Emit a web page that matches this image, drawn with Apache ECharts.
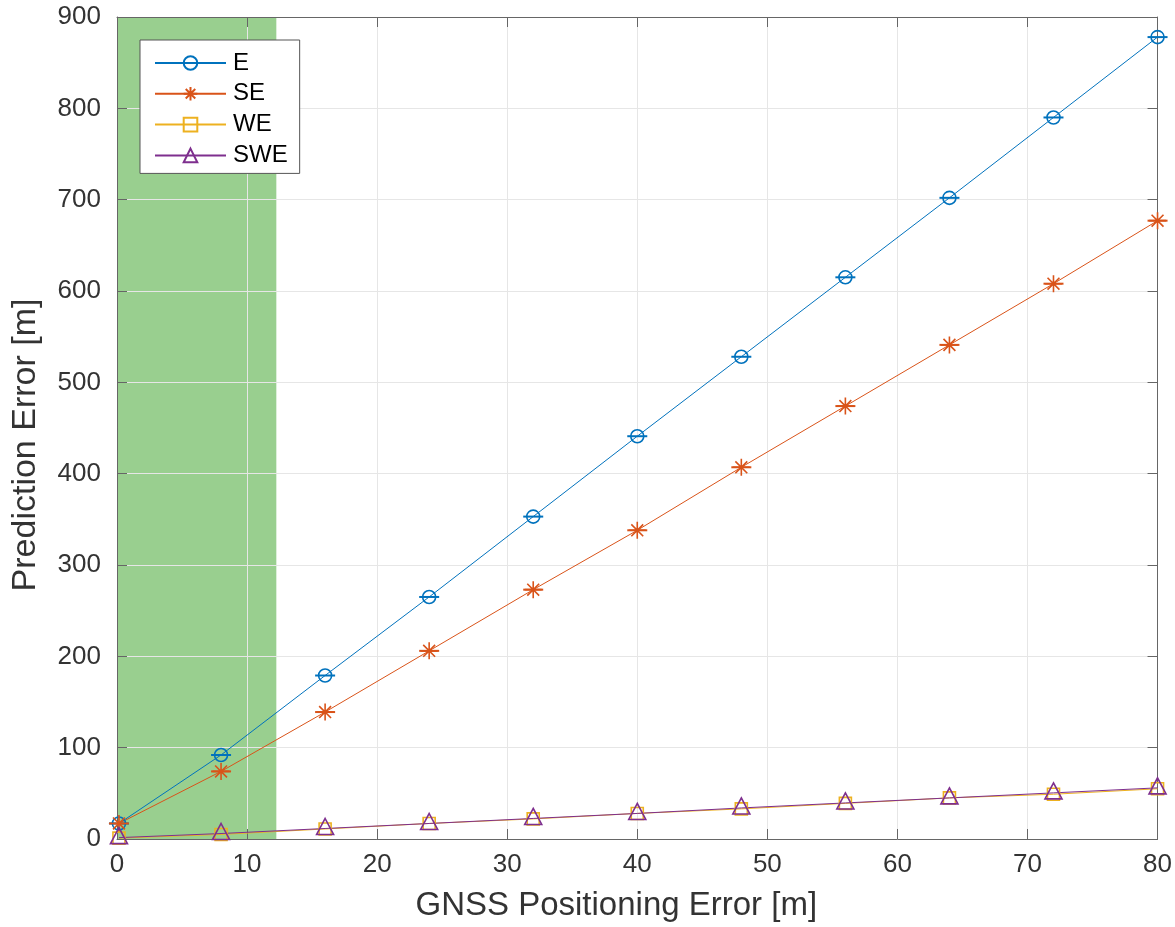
<!DOCTYPE html>
<html>
<head>
<meta charset="utf-8">
<script src="https://cdn.jsdelivr.net/npm/echarts@6/dist/echarts.min.js"></script>
<style>
  html, body { margin: 0; padding: 0; background: #fff; }
  #chart { width: 1175px; height: 927px; }
</style>
</head>
<body>
<div id="chart"></div>
<script>
// GNSS positioning error [m] (x) and prediction error [m] per method
const gnssError = [0.15, 8, 16, 24, 32, 40, 48, 56, 64, 72, 80];
const errE = [17, 92, 179, 265, 353, 441, 528, 615, 702, 790, 878];
const errSE = [17, 74, 139, 206, 273, 338, 407, 474, 541, 608, 677];
const errWE = [1, 5, 11, 17, 22, 28, 33, 39, 45, 49, 55];
const errSWE = [1.5, 6, 11.5, 17, 22.5, 28, 34, 39.5, 45, 50.5, 56];
const shadeRange = [0, 12.25];

const colE = '#0072BD';
const colSE = '#D95319';
const colWE = '#EDB120';
const colSWE = '#7E2F8E';
const axisCol = '#666';
const textCol = '#333';
const font = 'Liberation Sans, Arial, Helvetica, sans-serif';

const pairs = (ys) => gnssError.map((x, i) => [x, ys[i]]);

const starPath = 'path://M0,-10L0,10M-10,0L10,0M-7,-7L7,7M-7,7L7,-7';

// short horizontal bars drawn through the markers
function hBars(name, ys, color) {
  return {
    name: name + '_bar',
    type: 'custom',
    data: pairs(ys),
    z: 3,
    silent: true,
    renderItem: function (params, api) {
      const p = api.coord([api.value(0), api.value(1)]);
      return {
        type: 'line',
        shape: { x1: p[0] - 10, y1: p[1], x2: p[0] + 10, y2: p[1] },
        style: { stroke: color, lineWidth: 2 }
      };
    }
  };
}

const chart = echarts.init(document.getElementById('chart'));

const baseX = {
  type: 'value', min: 0, max: 80, interval: 10
};
const baseY = {
  type: 'value', min: 0, max: 900, interval: 100
};

chart.setOption({
  animation: false,
  textStyle: { fontFamily: font },
  grid: { left: 117, top: 17, width: 1045, height: 825, containLabel: false },
  legend: {
    orient: 'vertical',
    left: 140,
    top: 40,
    data: ['E', 'SE', 'WE', 'SWE'],
    backgroundColor: '#fff',
    borderColor: '#555',
    borderWidth: 1,
    padding: [11, 12, 6, 14],
    itemWidth: 71,
    itemHeight: 17,
    itemGap: 6.8,
    textStyle: { fontFamily: font, fontSize: 24, color: '#000', padding: [0, 0, 0, 2] }
  },
  xAxis: [
    Object.assign({}, baseX, {
      position: 'bottom',
      name: 'GNSS Positioning Error [m]',
      nameLocation: 'middle',
      nameGap: 50,
      nameTextStyle: { fontSize: 33, color: textCol, padding: [0, 42, 0, 0] },
      axisLine: { show: true, onZero: false, lineStyle: { color: axisCol, width: 1 } },
      axisTick: { show: true, inside: true, length: 10, lineStyle: { color: axisCol } },
      axisLabel: { fontSize: 26, color: textCol, margin: 13 },
      splitLine: { show: true, lineStyle: { color: '#e6e6e6', width: 1 } }
    }),
    Object.assign({}, baseX, {
      position: 'top',
      axisLine: { show: true, onZero: false, lineStyle: { color: axisCol, width: 1 } },
      axisTick: { show: true, inside: true, length: 10, lineStyle: { color: axisCol } },
      axisLabel: { show: false },
      splitLine: { show: false }
    })
  ],
  yAxis: [
    Object.assign({}, baseY, {
      position: 'left',
      name: 'Prediction Error [m]',
      nameLocation: 'middle',
      nameGap: 74,
      nameTextStyle: { fontSize: 34, color: textCol, padding: [0, 34, 0, 0] },
      axisLine: { show: true, onZero: false, lineStyle: { color: axisCol, width: 1 } },
      axisTick: { show: true, inside: true, length: 10, lineStyle: { color: axisCol } },
      axisLabel: { fontSize: 26, color: textCol, margin: 16 },
      splitLine: { show: true, lineStyle: { color: '#e6e6e6', width: 1 } }
    }),
    Object.assign({}, baseY, {
      position: 'right',
      axisLine: { show: true, onZero: false, lineStyle: { color: axisCol, width: 1 } },
      axisTick: { show: true, inside: true, length: 10, lineStyle: { color: axisCol } },
      axisLabel: { show: false },
      splitLine: { show: false }
    })
  ],
  series: [
    {
      name: 'E',
      type: 'line',
      data: pairs(errE),
      symbol: 'circle',
      symbolSize: 13,
      lineStyle: { color: colE, width: 1 },
      itemStyle: { color: 'transparent', borderColor: colE, borderWidth: 1.6 },
      z: 4,
      markArea: {
        silent: true,
        z: -1,
        itemStyle: { color: '#99cf8f', opacity: 1 },
        data: [[{ xAxis: shadeRange[0] }, { xAxis: shadeRange[1] }]]
      }
    },
    {
      name: 'SE',
      type: 'line',
      data: pairs(errSE),
      symbol: starPath,
      symbolSize: 17,
      lineStyle: { color: colSE, width: 1 },
      itemStyle: { color: 'none', borderColor: colSE, borderWidth: 1.6 },
      z: 4
    },
    {
      name: 'WE',
      type: 'line',
      data: pairs(errWE),
      symbol: 'rect',
      symbolSize: 12,
      lineStyle: { color: colWE, width: 1 },
      itemStyle: { color: 'transparent', borderColor: colWE, borderWidth: 1.6 },
      z: 4
    },
    {
      name: 'SWE',
      type: 'line',
      data: pairs(errSWE),
      symbol: 'triangle',
      symbolSize: [17, 16],
      symbolOffset: [0, -2],
      lineStyle: { color: colSWE, width: 1 },
      itemStyle: { color: 'transparent', borderColor: colSWE, borderWidth: 1.6 },
      z: 4
    },
    hBars('E', errE, colE),
    hBars('SE', errSE, colSE)
  ]
});
</script>
</body>
</html>
